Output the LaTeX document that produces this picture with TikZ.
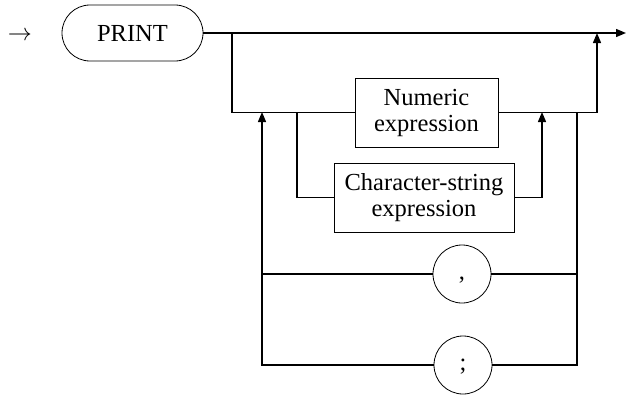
\documentclass[tikz,border=0pt]{standalone}
\usepackage{fontspec}
\setmainfont{Liberation Serif}
\usetikzlibrary{arrows.meta}
\tikzset{
  keyword/.style = {draw, rounded corners=14pt, minimum width=70.5pt, minimum height=28pt, inner sep=0pt},
  syntbox/.style = {draw, minimum height=34.5pt, inner sep=0pt, align=center},
  punct/.style   = {draw, circle, minimum size=29pt, inner sep=0pt, text height=1.4ex, text depth=0.3ex},
  flow/.style    = {line width=0.7pt},
  flowarr/.style = {flow, -{Triangle[length=5pt,width=4pt]}},
}

\begin{document}
\begin{tikzpicture}[x=0.5pt, y=-0.5pt, font=\fontsize{12.25}{13}\selectfont]
  \useasboundingbox (0,0) rectangle (627,396);
  \node (entry) at (20,36) {$\rightarrow$};
  \node[keyword] (print) at (132.5,33) {PRINT};
  \node[syntbox, minimum width=71.5pt] (numexp) at (426.5,112.5) {Numeric\\expression};
  \node[syntbox, minimum width=90pt] (strexp) at (424,197.5) {Character-string\\expression};
  \node[punct] (comma) at (462,274) {,};
  \node[punct] (semi) at (463,365) {;};
  % branch and join points
  \coordinate (exit) at (626,33);
  \coordinate (splitA) at (232,33);
  \coordinate (joinA) at (597,33);
  \coordinate (splitB) at (297,112);
  \coordinate (joinB) at (542,112);
  \coordinate (loopR) at (577,112);
  \coordinate (loopRc) at (577,274);
  \coordinate (loopL) at (262,112);
  \coordinate (loopLc) at (262,274);
  % main line
  \draw[flowarr] (print.east) -- (exit);
  \draw[flow] (splitA) |- (numexp.west);
  \draw[flowarr] (numexp.east) -| (joinA);
  \draw[flow] (splitB) |- (strexp.west);
  \draw[flowarr] (strexp.east) -| (joinB);
  % separators loop back
  \draw[flow] (loopR) |- (semi.east);
  \draw[flowarr] (semi.west) -| (loopL);
  \draw[flow] (loopRc) -- (comma.east);
  \draw[flow] (comma.west) -- (loopLc);
\end{tikzpicture}
\end{document}
